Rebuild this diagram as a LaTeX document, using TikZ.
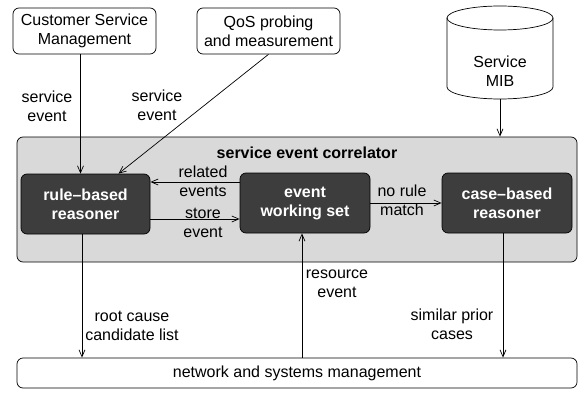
\documentclass[tikz,border=0pt]{standalone}
\usepackage{fontspec}
\setmainfont{Liberation Sans}
\usetikzlibrary{arrows.meta}
\definecolor{corrgray}{HTML}{D9D9D9}
\definecolor{darkbox}{HTML}{3D3D3D}

\begin{document}
\begin{tikzpicture}[x=1pt,y=-1pt,
  font=\fontsize{16}{19}\selectfont,
  box/.style={draw,rounded corners=6pt,align=center,line width=0.7pt},
  reasoner/.style={box,fill=darkbox,text=white,font=\fontsize{16}{19}\selectfont\bfseries,minimum width=130pt,minimum height=60pt},
  lbl/.style={align=center,inner sep=0pt},
  flow/.style={-{Straight Barb[length=7pt,width=6pt]},line width=0.7pt}]
\useasboundingbox (0,0) rectangle (580,393);
% sources on top
\node[box,minimum width=143pt,minimum height=46pt] (csm) at (84.5,31) {Customer Service\\Management};
\node[box,minimum width=143pt,minimum height=46pt] (qos) at (268.5,31) {QoS probing\\and measurement};
% the MIB drum
\filldraw[fill=white,line width=0.7pt] (447,18) -- (447,87) arc[start angle=180,end angle=0,x radius=53,y radius=12] -- (553,18);
\draw[line width=0.7pt] (500,18) ellipse [x radius=53,y radius=12];
\coordinate (mib) at (500,99);
\node[lbl] (mibtext) at (500,71.5) {Service\\MIB};
% correlator
\node[box,fill=corrgray,minimum width=560pt,minimum height=125pt] (corr) at (297,199.5) {};
\node[lbl,font=\fontsize{16}{19}\selectfont\bfseries] (corrtitle) at (307,153) {service event correlator};
\node[reasoner,minimum width=129pt] (rule) at (85.5,204) {rule\textendash based\\reasoner};
\node[reasoner] (ews) at (305,203) {event\\working set};
\node[reasoner] (cbr) at (507,203) {case\textendash based\\reasoner};
% bottom
\node[box,minimum width=560pt,minimum height=30pt] (nsm) at (297,373) {network and systems management};
% flows
\draw[flow] ([xshift=-4pt]csm.south) -- ([xshift=-4pt]csm.south |- rule.north);
\node[lbl] (l1) at (47,106.5) {service\\event};
\draw[flow] (qos.south) -- ([xshift=33pt]rule.north);
\node[lbl] (l2) at (157,105) {service\\event};
\draw[flow] (mib) -- (mib |- corr.north);
\draw[flow] ([yshift=21pt]ews.west) -- ([yshift=21pt]ews.west -| rule.east);
\node[lbl] (l3) at (203,181.5) {related\\events};
\draw[flow] ([yshift=-15pt]rule.east) -- ([yshift=-15pt]rule.east -| ews.west);
\node[lbl] (l4) at (203,222.5) {store\\event};
\draw[flow] (ews.east) -- (cbr.west);
\node[lbl] (l5) at (402,200) {no rule\\match};
\draw[flow] ([xshift=-3.5pt]rule.south) -- ([xshift=-3.5pt]rule.south |- nsm.north);
\node[lbl] (l6) at (132,325.5) {root cause\\candidate list};
\draw[flow] ([xshift=-3pt]ews.south |- nsm.north) -- ([xshift=-3pt]ews.south);
\node[lbl] (l7) at (337,284) {resource\\event};
\draw[flow] ([xshift=-4pt]cbr.south) -- ([xshift=-4pt]cbr.south |- nsm.north);
\node[lbl] (l8) at (452,324) {similar prior\\cases};
\end{tikzpicture}
\end{document}
